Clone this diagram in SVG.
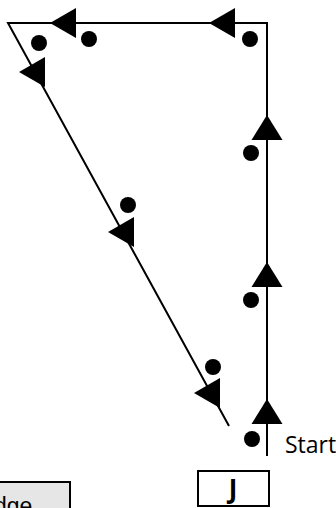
<svg xmlns="http://www.w3.org/2000/svg" width="336" height="508" viewBox="0 0 336 508">
  <style>
    .ln { fill: none; stroke: #000; stroke-width: 2; stroke-linejoin: miter; }
    .ah { fill: #000; stroke: none; }
    .dot { fill: #000; }
    .box { stroke: #000; stroke-width: 2; }
    .lbl { font-family: "Open Sans", "Liberation Sans", sans-serif; font-size: 23px; fill: #000; }
  </style>
  <defs>
    <path id="left" d="M0,0 L26,-15 L26,15 Z"/>
    <path id="up" d="M0,0 L15.5,25 L-15.5,25 Z"/>
  </defs>
  <rect width="336" height="508" fill="#fff"/>
  <g id="connectors">
    <polyline class="ln" points="267,456 267,23 8,23 229,426"/>
    <use class="ah" href="#up" x="267" y="399"/>
    <use class="ah" href="#up" x="267" y="262"/>
    <use class="ah" href="#up" x="267" y="115"/>
    <use class="ah" href="#left" x="209" y="23"/>
    <use class="ah" href="#left" x="50" y="23"/>
    <use class="ah" href="#left" x="19" y="72"/>
    <use class="ah" href="#left" x="108" y="232"/>
    <use class="ah" href="#left" x="194" y="393"/>
  </g>
  <g id="dots">
    <circle class="dot" cx="252" cy="439" r="8"/>
    <circle class="dot" cx="251" cy="300" r="8"/>
    <circle class="dot" cx="251" cy="153" r="8"/>
    <circle class="dot" cx="250" cy="39" r="8"/>
    <circle class="dot" cx="89" cy="39" r="8"/>
    <circle class="dot" cx="39" cy="43" r="8"/>
    <circle class="dot" cx="128" cy="205" r="8"/>
    <circle class="dot" cx="213" cy="367" r="8"/>
  </g>
  <g id="start">
    <text class="lbl" x="285" y="453">Start</text>
  </g>
  <g id="nodeJ">
    <rect class="box" x="198" y="471" width="71" height="35" fill="#fff"/>
    <text class="lbl" x="233" y="498" text-anchor="middle" font-weight="bold" style="font-size:26px">J</text>
  </g>
  <g id="nodeEdge">
    <rect class="box" x="-10" y="482" width="80" height="40" fill="#e6e6e6"/>
    <text x="-6" y="514" font-family="Liberation Sans, Arial, sans-serif" font-size="23">dge</text>
  </g>
</svg>
